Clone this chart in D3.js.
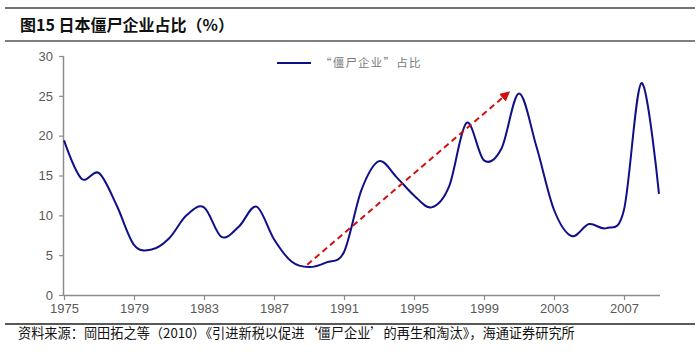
<!DOCTYPE html>
<html>
<head>
<meta charset="utf-8">
<script src="https://cdn.jsdelivr.net/npm/d3@7"></script>
<style>
  html, body { margin: 0; padding: 0; background: #fff; }
  svg { display: block; }
</style>
</head>
<body>
<svg id="chart" width="700" height="352"></svg>
<script>
// ---- data ----
const years = d3.range(1975, 2010);
const shares = [19.4, 14.6, 15.3, 11.3, 6.3, 5.7, 7.1, 10.0, 11.0, 7.3,
                8.6, 11.1, 7.0, 4.2, 3.5, 4.1, 5.4, 13.2, 16.8, 14.8,
                12.5, 11.0, 13.6, 21.6, 16.9, 18.4, 25.3, 18.6, 10.7, 7.4,
                8.9, 8.4, 10.7, 26.6, 12.7];
const xTickYears = [1975, 1979, 1983, 1987, 1991, 1995, 1999, 2003, 2007];
const yTicks = [0, 5, 10, 15, 20, 25, 30];
const arrowFrom = [1988.9, 3.8];
const arrowTo = [2000.4, 25.4];
const titleText = "图15 日本僵尸企业占比（%）";
const legendText = "“僵尸企业”占比";
const sourceText = "资料来源：岡田拓之等（2010）《引进新税以促进‘僵尸企业’的再生和淘汰》，海通证券研究所";

// ---- drawing ----
const svg = d3.select("#chart");
const x = d3.scaleLinear().domain([1975, 2009]).range([64, 659]);
const y = d3.scaleLinear().domain([0, 30]).range([295, 56]);
const cjk = "'Noto Sans CJK SC', 'Noto Sans', sans-serif";
const latin = "'Liberation Sans', Arial, sans-serif";

// frame lines
svg.append("line").attr("x1", 5).attr("x2", 695).attr("y1", 8).attr("y2", 8)
  .attr("stroke", "#444").attr("stroke-width", 1.5);
svg.append("line").attr("x1", 5).attr("x2", 695).attr("y1", 41).attr("y2", 41)
  .attr("stroke", "#555").attr("stroke-width", 1.5);
svg.append("line").attr("x1", 5).attr("x2", 695).attr("y1", 324).attr("y2", 324)
  .attr("stroke", "#222").attr("stroke-width", 1.3);

// title
svg.append("text").attr("x", 20).attr("y", 31)
  .attr("font-family", cjk).attr("font-weight", "bold").attr("font-size", 16)
  .attr("fill", "#111").text(titleText);

// source
svg.append("text").attr("x", 18).attr("y", 338)
  .attr("font-family", cjk).attr("font-size", 13.2)
  .attr("fill", "#111").text(sourceText);

// axes
const yAxis = d3.axisLeft(y).tickValues(yTicks).tickSize(5).tickPadding(6);
const gy = svg.append("g").attr("transform", `translate(${x(1975)},0)`).call(yAxis);
const xAxis = d3.axisBottom(x).tickValues(xTickYears).tickFormat(d3.format("d")).tickSize(5).tickPadding(4);
const gx = svg.append("g").attr("transform", `translate(0,${y(0)})`).call(xAxis);
[gx, gy].forEach(g => {
  g.select(".domain").attr("stroke", "#8c8c8c").attr("stroke-width", 1.5);
  g.selectAll(".tick line").attr("stroke", "#8c8c8c").attr("stroke-width", 1.2);
  g.selectAll(".tick text").attr("font-family", latin).attr("font-size", 13).attr("fill", "#595959");
});
gx.select(".domain").attr("d", `M${x(1975)},0.5H${x(2009)+1}`);
gy.select(".domain").attr("d", `M-0.5,${y(30)}V${y(0)}`);

// line
const line = d3.line()
  .x((d, i) => x(years[i]))
  .y(d => y(d))
  .curve(d3.curveCardinal.tension(0));
svg.append("path").datum(shares)
  .attr("d", line)
  .attr("fill", "none")
  .attr("stroke", "#0f0f8a")
  .attr("stroke-width", 2);

// arrow
const defs = svg.append("defs");
defs.append("marker").attr("id", "arrowhead")
  .attr("viewBox", "0 0 10 10").attr("refX", 8).attr("refY", 5)
  .attr("markerWidth", 5).attr("markerHeight", 5)
  .attr("markerUnits", "strokeWidth")
  .attr("orient", "auto")
  .append("path").attr("d", "M0,0L10,5L0,10Z").attr("fill", "#d01010");
svg.append("line")
  .attr("x1", x(arrowFrom[0])).attr("y1", y(arrowFrom[1]))
  .attr("x2", x(arrowTo[0])).attr("y2", y(arrowTo[1]))
  .attr("stroke", "#d01010").attr("stroke-width", 2)
  .attr("stroke-dasharray", "6,4")
  .attr("marker-end", "url(#arrowhead)");

// legend
svg.append("line").attr("x1", 277).attr("x2", 311).attr("y1", 63).attr("y2", 63)
  .attr("stroke", "#0f0f8a").attr("stroke-width", 2);
svg.append("text").attr("x", 320).attr("y", 67)
  .attr("font-family", cjk).attr("font-size", 11.5).attr("letter-spacing", 1.2)
  .attr("fill", "#7a7a7a").text(legendText);
</script>
</body>
</html>
